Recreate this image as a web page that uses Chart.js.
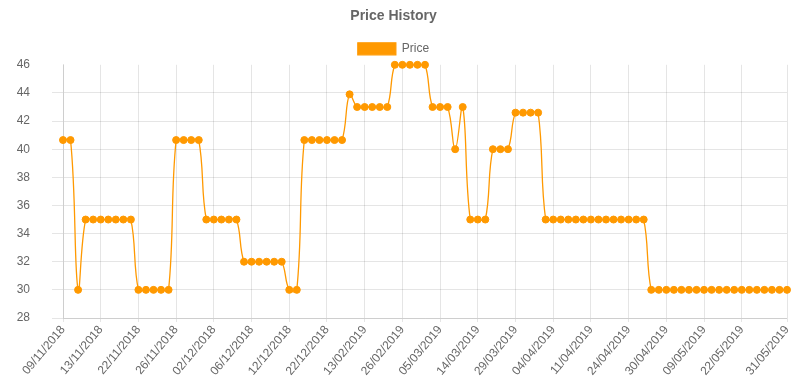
<!DOCTYPE html>
<html>
<head>
<meta charset="utf-8">
<script src="https://cdn.jsdelivr.net/npm/chart.js@4/dist/chart.umd.min.js"></script>
<style>
  html, body { margin: 0; padding: 0; background: #ffffff; }
  #wrap { width: 800px; height: 390px; }
</style>
</head>
<body>
<div id="wrap"><canvas id="c" width="800" height="390"></canvas></div>
<script>
// Dates (category labels) — one per recorded price point
const dates = [
  '09/11/2018','10/11/2018','11/11/2018','11/11/2018','12/11/2018',
  '13/11/2018','15/11/2018','17/11/2018','19/11/2018','21/11/2018',
  '22/11/2018','23/11/2018','24/11/2018','25/11/2018','25/11/2018',
  '26/11/2018','27/11/2018','28/11/2018','29/11/2018','01/12/2018',
  '02/12/2018','03/12/2018','04/12/2018','05/12/2018','05/12/2018',
  '06/12/2018','07/12/2018','08/12/2018','10/12/2018','11/12/2018',
  '12/12/2018','14/12/2018','16/12/2018','18/12/2018','20/12/2018',
  '22/12/2018','05/01/2019','18/01/2019','30/01/2019','07/02/2019',
  '13/02/2019','16/02/2019','19/02/2019','21/02/2019','24/02/2019',
  '26/02/2019','27/02/2019','28/02/2019','02/03/2019','04/03/2019',
  '05/03/2019','07/03/2019','09/03/2019','11/03/2019','12/03/2019',
  '14/03/2019','17/03/2019','20/03/2019','23/03/2019','26/03/2019',
  '29/03/2019','30/03/2019','01/04/2019','02/04/2019','03/04/2019',
  '04/04/2019','05/04/2019','07/04/2019','08/04/2019','10/04/2019',
  '11/04/2019','13/04/2019','16/04/2019','18/04/2019','21/04/2019',
  '24/04/2019','25/04/2019','26/04/2019','28/04/2019','29/04/2019',
  '30/04/2019','02/05/2019','04/05/2019','06/05/2019','07/05/2019',
  '09/05/2019','11/05/2019','14/05/2019','17/05/2019','19/05/2019',
  '22/05/2019','24/05/2019','25/05/2019','27/05/2019','28/05/2019',
  '30/05/2019','31/05/2019'
];

// Price series
const prices = [
  40.65, 40.65, 30,
  35, 35, 35, 35, 35, 35, 35,
  30, 30, 30, 30, 30,
  40.65, 40.65, 40.65, 40.65,
  35, 35, 35, 35, 35,
  32, 32, 32, 32, 32, 32,
  30, 30,
  40.65, 40.65, 40.65, 40.65, 40.65, 40.65,
  43.9,
  43, 43, 43, 43, 43,
  46, 46, 46, 46, 46,
  43, 43, 43,
  40,
  43,
  35, 35, 35,
  40, 40, 40,
  42.6, 42.6, 42.6, 42.6,
  35, 35, 35, 35, 35, 35, 35, 35, 35, 35, 35, 35, 35, 35,
  30, 30, 30, 30, 30, 30, 30, 30, 30, 30, 30, 30, 30, 30, 30, 30, 30, 30, 30
];

// Visible x tick labels
const shownTickLabels = [
  '09/11/2018','13/11/2018','22/11/2018','26/11/2018','02/12/2018',
  '06/12/2018','12/12/2018','22/12/2018','13/02/2019','26/02/2019',
  '05/03/2019','14/03/2019','29/03/2019','04/04/2019','11/04/2019',
  '24/04/2019','30/04/2019','09/05/2019','22/05/2019','31/05/2019'
];

// Y axis range
const yMin = 28, yMax = 46, yStep = 2;

const ORANGE = '#ff9900';
const GRID = 'rgba(0,0,0,0.1)';

Chart.defaults.font.family = "'Liberation Sans', Arial, Helvetica, sans-serif";
Chart.defaults.color = '#666';

new Chart(document.getElementById('c'), {
  type: 'line',
  data: {
    labels: dates,
    datasets: [{
      label: 'Price',
      data: prices,
      borderColor: ORANGE,
      backgroundColor: ORANGE,
      borderWidth: 1.3,
      tension: 0.4,
      fill: false,
      clip: false,
      pointRadius: 3.5,
      pointBorderWidth: 1,
      pointBackgroundColor: ORANGE,
      pointBorderColor: ORANGE
    }]
  },
  options: {
    responsive: false,
    animation: false,
    devicePixelRatio: 1,
    layout: { padding: { left: 0, right: 13, top: 0, bottom: 0 } },
    plugins: {
      title: {
        display: true,
        text: 'Price History',
        color: '#666',
        font: { size: 14, weight: 'bold' },
        padding: { top: 8, bottom: 8 }
      },
      legend: {
        display: true,
        labels: {
          boxWidth: 38,
          boxHeight: 12,
          color: '#666',
          font: { size: 12 },
          padding: 10
        }
      },
      tooltip: { enabled: false }
    },
    scales: {
      x: {
        type: 'category',
        offset: false,
        afterBuildTicks: (axis) => {
          axis.ticks = axis.ticks.filter(t => shownTickLabels.includes(dates[t.value]) &&
            (dates.indexOf(dates[t.value]) === t.value));
        },
        afterFit: (scale) => { scale.height = 72; },
        grid: { color: GRID, tickLength: 4, drawOnChartArea: true },
        border: { color: GRID },
        ticks: {
          autoSkip: false,
          maxRotation: 50,
          minRotation: 50,
          padding: 1,
          color: '#666',
          font: { size: 12 }
        }
      },
      y: {
        min: yMin,
        max: yMax,
        afterFit: (scale) => { scale.width = 63; },
        grid: {
          color: (ctx) => (ctx.tick && ctx.tick.value === yMax) ? 'rgba(0,0,0,0)' : GRID,
          tickLength: 11
        },
        border: { color: GRID },
        ticks: {
          stepSize: yStep,
          padding: 22,
          color: '#666',
          font: { size: 12 }
        }
      }
    }
  }
});
</script>
</body>
</html>
